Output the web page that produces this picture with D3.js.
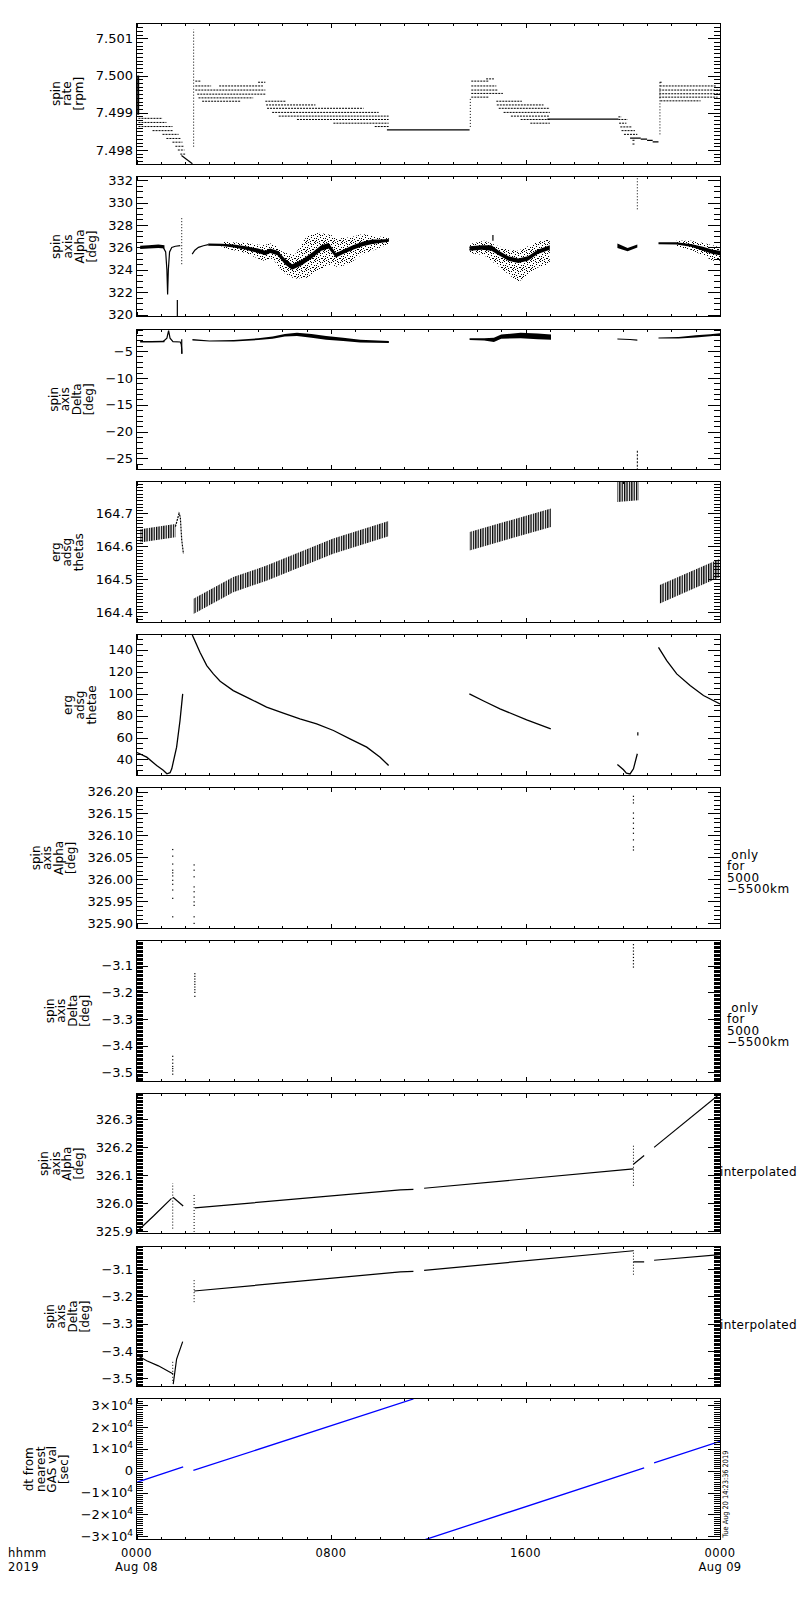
<!DOCTYPE html>
<html><head><meta charset="utf-8">
<script src="https://cdn.jsdelivr.net/npm/d3@7"></script>
<style>body{margin:0;background:#fff}svg text{font-family:"DejaVu Sans",sans-serif}</style>
</head><body><svg id="c" width="800" height="1600"></svg>
<script>
// ---------------- DATA (time in hours from 2019-08-08 00:00 UT) ----------------
const hourTicks = [0, 8, 16, 24];
const hourLabels = ["0000", "0800", "1600", "0000"];
const dateLabels = ["Aug 08", "", "", "Aug 09"];

// panel 1: spin rate [rpm]
const rateTicks = [7.498, 7.499, 7.500, 7.501];
const rateDotted = [ // [t0, t1, value]
  [0.08,1.07,7.49885],[0.08,1.23,7.49874],[0.08,1.48,7.49863],[0.66,1.52,7.49852],[1.07,1.73,7.49842],
  [1.23,1.81,7.49831],[1.48,1.89,7.49821],[1.6,1.93,7.49810],[1.7,1.97,7.49800],[1.8,2.0,7.49789],
  [2.42,2.63,7.49985],[2.42,3.07,7.49972],[3.4,5.2,7.49972],[2.42,5.3,7.49961],[2.5,5.3,7.49950],
  [2.55,4.8,7.49940],[2.7,4.27,7.49931],[5.0,5.3,7.49982],
  [5.3,6.16,7.49931],[5.33,7.36,7.49921],[5.37,9.34,7.49912],[5.58,9.96,7.49901],[5.85,10.37,7.49891],
  [6.6,10.37,7.49882],[8.1,10.37,7.49872],[9.8,10.37,7.49863],
  [13.77,14.47,7.49985],[14.38,14.7,7.49991],[13.77,14.8,7.49972],[13.77,14.87,7.49961],[13.77,15.07,7.49952],
  [13.77,14.47,7.49942],[14.8,15.85,7.49931],[14.82,16.74,7.49921],[14.9,17.0,7.49912],[15.1,17.0,7.49901],
  [15.4,17.0,7.49891],[15.8,17.0,7.49882],[16.2,17.0,7.49872],
  [19.82,19.95,7.49889],[19.82,20.2,7.49882],[19.85,20.15,7.49872],[19.9,20.37,7.49862],[19.95,20.5,7.49852],
  [20.05,20.6,7.49842],[20.4,20.5,7.49826],[20.4,20.5,7.49816],
  [21.52,21.6,7.49982],[21.52,23.86,7.49972],[21.5,24,7.49961],[21.5,24,7.49951],[21.5,23.9,7.49942],[21.55,23.2,7.49932]
];
const rateSolid = [
  [10.3,13.7,7.49854],[16.9,19.82,7.49883],[20.3,20.74,7.49832],[20.74,21.0,7.49829],[21.0,21.23,7.49826],[21.23,21.47,7.49822]
];
const rateLine = [[1.85,7.49785],[2.3,7.49763]];
const rateSpikes = [[2.35,7.49809,7.50124],[13.73,7.49862,7.49942],[21.53,7.49842,7.49985]]; // [t, v0, v1]
const rateBars = [[0.07,7.49895,7.50000]];

// panel 2: spin axis Alpha [deg]
const alphaTicks = [320, 322, 324, 326, 328, 330, 332];
const alphaCore = [ // runs of [t, lo, hi]
  [[0.15,325.85,326.15],[0.5,325.9,326.2],[0.9,325.95,326.25],[1.15,325.9,326.2]],
  [[2.95,326.15,326.35],[3.5,326.12,326.32],[4.0,326.0,326.25],[4.5,325.8,326.1],[5.0,325.5,325.9],[5.3,325.3,325.7],
   [5.5,325.5,325.9],[5.8,325.3,325.7],[6.1,324.5,325.0],[6.4,324.0,324.5],[6.8,324.4,324.9],[7.2,325.0,325.5],
   [7.6,325.7,326.2],[7.9,325.9,326.4],[8.2,325.1,325.5],[8.5,325.4,325.8],[8.9,325.8,326.2],[9.3,326.1,326.5],
   [9.7,326.3,326.7],[10.0,326.4,326.7],[10.38,326.5,326.75]],
  [[13.7,325.7,326.1],[14.2,325.8,326.2],[14.6,325.7,326.2],[14.9,325.3,325.7],[15.3,324.8,325.2],[15.7,324.6,325.0],
   [16.1,324.8,325.2],[16.5,325.4,325.8],[17.0,325.8,326.2]],
  [[19.78,325.95,326.35],[20.2,325.65,325.95],[20.6,326.0,326.25]],
  [[21.47,326.28,326.45],[22.2,326.25,326.45],[22.8,326.05,326.3],[23.3,325.7,326.05],[23.7,325.4,325.8],[24.0,325.3,325.7]]
];
const alphaScatter = [
  [[3.5,326.0,326.5],[4.5,325.5,326.4],[5.2,324.8,326.2],[5.6,325.0,326.4],[6.0,323.8,325.6],[6.5,323.2,325.3],
   [7.0,323.3,327.0],[7.5,324.0,327.3],[8.0,324.5,327.1],[8.3,324.2,326.8],[8.8,324.6,326.9],[9.3,325.4,327.2],
   [9.8,325.8,327.0],[10.38,326.3,326.9]],
  [[13.7,325.5,326.3],[14.3,325.3,326.6],[14.9,324.3,326.1],[15.3,323.6,325.8],[15.7,322.9,325.7],[16.1,323.5,326.1],
   [16.5,324.2,326.5],[17.0,324.5,326.7]],
  [[22.2,326.1,326.6],[22.8,325.8,326.6],[23.3,325.3,326.4],[23.7,324.8,326.2],[24.0,324.8,326.0]]
];
const alphaLines = [
  [[1.1,326.0],[1.2,325.6],[1.25,324.0],[1.28,321.8],[1.31,324.0],[1.36,325.6],[1.45,326.0],[1.6,326.1],[1.8,326.15]],
  [[2.29,325.4],[2.4,325.75],[2.55,326.0],[2.75,326.15],[2.95,326.25]]
];
const alphaSpikes = [[1.86,324.5,328.7],[20.6,329.4,332.3]];
const alphaBars = [[1.68,319.8,321.3],[14.66,326.6,327.1]];

// panel 3: spin axis Delta [deg]
const deltaTicks = [-25, -20, -15, -10, -5];
const deltaCore = [
  [[0.15,-3.4,-3.1],[0.6,-3.4,-3.1],[1.15,-3.35,-3.05]],
  [[2.3,-3.0,-2.75],[3.0,-3.2,-3.0],[4.0,-3.2,-2.95],[5.0,-2.95,-2.6],[5.6,-2.7,-2.3],[6.1,-2.3,-1.8],[6.6,-2.2,-1.6],
   [7.2,-2.5,-1.8],[7.8,-2.9,-2.2],[8.5,-3.1,-2.5],[9.2,-3.4,-2.9],[10.38,-3.5,-3.1]],
  [[13.7,-2.95,-2.6],[14.3,-3.0,-2.6],[14.7,-3.3,-2.5],[15.0,-2.7,-1.9],[15.8,-2.6,-1.6],[16.5,-2.8,-1.7],[17.05,-2.9,-1.9]],
  [[19.78,-2.85,-2.65],[20.3,-2.95,-2.75],[20.6,-3.05,-2.85]],
  [[21.47,-2.65,-2.45],[22.3,-2.65,-2.35],[23.0,-2.45,-2.05],[23.6,-2.25,-1.85],[24.0,-2.05,-1.65]]
];
const deltaLines = [
  [[1.1,-3.2],[1.25,-2.6],[1.32,-1.2],[1.38,-2.6],[1.5,-3.25],[1.8,-3.3],[1.84,-3.7],[1.86,-4.6],[1.87,-5.5]]
];
const deltaSpikes = [[20.6,-27.2,-23.4]];
const deltaBars = [[1.86,-5.5,-2.8]];

// panel 4: erg adsg thetas
const thetasTicks = [164.4, 164.5, 164.6, 164.7];
const thetasBands = [
  [[0.15,164.612,164.652],[1.6,164.628,164.668]],
  [[2.34,164.395,164.441],[3.98,164.461,164.507],[5.35,164.496,164.542],[6.72,164.537,164.583],[8.09,164.578,164.624],[10.37,164.631,164.677]],
  [[13.7,164.588,164.644],[17.05,164.659,164.715]],
  [[19.78,164.735,164.796],[20.65,164.74,164.796]],
  [[21.5,164.426,164.482],[24.0,164.507,164.563]]
];
const thetasLines = [[[1.6,164.66],[1.75,164.70],[1.8,164.69],[1.86,164.62],[1.93,164.578]]];

// panel 5: erg adsg thetae
const thetaeTicks = [40, 60, 80, 100, 120, 140];
const thetaeLines = [
  [[0,46.6],[0.42,42.1],[0.83,34.5],[1.1,30.2],[1.25,27],[1.38,28],[1.45,31.5],[1.65,51.2],[1.79,75.5],[1.9,99.7]],
  [[2.28,155],[2.31,152.7],[2.61,137.6],[2.89,125.5],[3.16,117.9],[3.44,111.2],[3.98,102.7],[4.67,95.2],[5.35,87.6],
   [6.04,82.1],[6.72,77],[7.41,72.4],[8.1,66.4],[8.78,58.8],[9.47,51.2],[10.02,42.1],[10.37,34.5]],
  [[13.69,99.7],[14.3,93],[14.95,86.1],[16.05,76.1],[17.04,67.9]],
  [[19.78,35.5],[20.03,30.6],[20.15,27.5],[20.3,26.8],[20.44,31.5],[20.6,45.2]],
  [[21.47,142.1],[21.81,130],[22.22,117.9],[22.77,107.3],[23.32,98.2],[24,90.6]]
];
const thetaeBars = [[20.62,61.8,64.8]];

// panel 6: spin axis Alpha, only for 5000-5500 km
const onlyAlphaTicks = [325.90, 325.95, 326.00, 326.05, 326.10, 326.15, 326.20];
const onlyAlphaDots = [
  [1.49,[326.068,326.053,326.035,326.021,326.015,326.008,325.998,325.989,325.976,325.957,325.915]],
  [2.37,[326.033,326.021,326.006,325.983,325.972,325.960,325.949,325.941,325.915,325.900]],
  [20.44,[326.189,326.181,326.174,326.151,326.139,326.128,326.116,326.105,326.090,326.074,326.067]]
];

// panel 7: spin axis Delta, only for 5000-5500 km
const onlyDeltaTicks = [-3.5, -3.4, -3.3, -3.2, -3.1];
const onlyDeltaDots = [
  [1.49,[-3.440,-3.453,-3.466,-3.478,-3.486,-3.495,-3.507]],
  [2.40,[-3.130,-3.140,-3.150,-3.160,-3.170,-3.180,-3.190,-3.200,-3.215]],
  [20.44,[-3.021,-3.033,-3.045,-3.057,-3.069,-3.081,-3.093,-3.105]]
];

// panel 8: spin axis Alpha, interpolated
const interpAlphaTicks = [325.9, 326.0, 326.1, 326.2, 326.3];
const interpAlphaLines = [
  [[0,325.898],[0.7,325.955],[1.44,326.018]],
  [[1.5,326.022],[1.92,325.991]],
  [[2.4,325.984],[10.85,326.048],[11.39,326.050]],
  [[11.83,326.054],[20.44,326.123]],
  [[20.44,326.140],[20.88,326.171]],
  [[21.29,326.200],[24,326.391]]
];
const interpAlphaSpikes = [[1.49,325.91,326.072],[2.37,325.898,326.036],[20.44,326.063,326.209]];

// panel 9: spin axis Delta, interpolated
const interpDeltaTicks = [-3.5, -3.4, -3.3, -3.2, -3.1];
const interpDeltaLines = [
  [[0,-3.415],[0.42,-3.436],[0.9,-3.455],[1.51,-3.485]],
  [[1.51,-3.522],[1.65,-3.43],[1.9,-3.366]],
  [[2.37,-3.180],[10.85,-3.110],[11.39,-3.108]],
  [[11.83,-3.104],[20.44,-3.032]],
  [[20.44,-3.073],[20.88,-3.073]],
  [[21.29,-3.067],[24,-3.046]]
];
const interpDeltaSpikes = [[1.49,-3.51,-3.44],[2.37,-3.221,-3.134],[20.44,-3.12,-3.03]];

// panel 10: dt from nearest GAS val [sec]
const dtTicks = [-30000, -20000, -10000, 0, 10000, 20000, 30000];
const dtLines = [
  [[0,-5340],[1.92,1690]],
  [[2.34,100],[11.39,32740]],
  [[11.87,-31500],[20.88,1300]],
  [[21.29,3520],[24,13380]]
];
const stampText = "Tue Aug 20 14:23:36 2019";

// ---------------- LAYOUT ----------------
const X0 = 136.5, X1 = 720;
const TOP0 = 23.3, PITCH = 152.85, PH = 140.7;
const x = d3.scaleLinear().domain([0, 24]).range([X0, X1]);
const svg = d3.select("#c");
const defs = svg.append("defs");

const hatch = defs.append("pattern").attr("id","hatch").attr("width",2.4).attr("height",5).attr("patternUnits","userSpaceOnUse");
hatch.append("rect").attr("width",1.3).attr("height",5).attr("fill","#000");
const scat = defs.append("pattern").attr("id","scat").attr("width",9).attr("height",9).attr("patternUnits","userSpaceOnUse");
[[0,0],[4,0],[7,1],[2,2],[5,3],[8,4],[1,4],[3,5],[6,6],[0,7],[4,7],[8,8],[2,8],[7,6],[5,1],[1,6]].forEach(p =>
  scat.append("rect").attr("x",p[0]).attr("y",p[1]).attr("width",1).attr("height",1).attr("fill","#000"));

function minorVals(dom, step) {
  const lo = Math.min(dom[0], dom[1]), hi = Math.max(dom[0], dom[1]);
  const k0 = Math.ceil(lo/step - 1e-9), k1 = Math.floor(hi/step + 1e-9);
  return d3.range(k0, k1 + 1).map(k => +(k*step).toFixed(8));
}

function helpers(p, y) {
  return {
    band(runs, fill) {
      const a = d3.area().x(d => x(d[0])).y0(d => y(d[1])).y1(d => y(d[2]));
      p.selectAll(null).data(runs).join("path").attr("d", a).attr("fill", fill).attr("stroke", "none");
    },
    lines(runs, stroke, w, dash) {
      const l = d3.line().x(d => x(d[0])).y(d => y(d[1]));
      p.selectAll(null).data(runs).join("path").attr("d", l).attr("fill","none")
        .attr("stroke", stroke).attr("stroke-width", w).attr("stroke-dasharray", dash || null);
    },
    hseg(segs, w, dash) {
      p.selectAll(null).data(segs).join("line")
        .attr("x1", d => x(d[0])).attr("x2", d => x(d[1])).attr("y1", d => y(d[2])).attr("y2", d => y(d[2]))
        .attr("stroke","#000").attr("stroke-width", w).attr("stroke-dasharray", dash || null);
    },
    vseg(segs, w, dash) {
      p.selectAll(null).data(segs).join("line")
        .attr("x1", d => x(d[0])).attr("x2", d => x(d[0])).attr("y1", d => y(d[1])).attr("y2", d => y(d[2]))
        .attr("stroke","#000").attr("stroke-width", w).attr("stroke-dasharray", dash || null);
    },
    dots(groups) {
      const flat = groups.flatMap(g => g[1].map(v => [g[0], v]));
      p.selectAll(null).data(flat).join("rect")
        .attr("x", d => x(d[0]) - 0.6).attr("y", d => y(d[1]) - 0.6).attr("width", 1.2).attr("height", 1.2).attr("fill","#000");
    }
  };
}

const supFmt = function(d) {
  const t = d3.select(this); t.text(null);
  if (d === 0) { t.text("0"); return; }
  t.append("tspan").text((d < 0 ? "\u2212" : "") + Math.abs(d/1e4) + "\u00d710");
  t.append("tspan").attr("dy", -5).attr("font-size", 9).text("4");
};

const panels = [
  {title:["spin","rate","[rpm]"], domain:[7.497624,7.501403], major:rateTicks, minor:0.0001, fmt:d3.format(".3f"),
   draw:h => { h.hseg(rateDotted, 1, "2,1"); h.hseg(rateSolid, 1.2); h.lines([rateLine], "#000", 1.2);
               h.vseg(rateSpikes, 1, "1,2"); h.vseg(rateBars, 2); }},
  {title:["spin","axis","Alpha","[deg]"], domain:[319.8,332.36], major:alphaTicks, minor:0.5, fmt:d3.format("d"),
   draw:h => { h.band(alphaScatter, "url(#scat)"); h.band(alphaCore, "#000"); h.lines(alphaLines, "#000", 1.2);
               h.vseg(alphaSpikes, 1, "1,2"); h.vseg(alphaBars, 1.2); }},
  {title:["spin","axis","Delta","[deg]"], domain:[-27.1,-0.88], major:deltaTicks, minor:1, fmt:d3.format("d"),
   draw:h => { h.band(deltaCore, "#000"); h.lines(deltaLines, "#000", 1.2); h.vseg(deltaSpikes, 1, "2,1.5"); h.vseg(deltaBars, 1.2); }},
  {title:["erg","adsg","thetas"], domain:[164.369,164.796], major:thetasTicks, minor:0.01, fmt:d3.format(".1f"),
   draw:h => { h.band(thetasBands, "url(#hatch)"); h.lines(thetasLines, "#000", 1.2, "2,1"); }},
  {title:["erg","adsg","thetae"], domain:[25.5,153.6], major:thetaeTicks, minor:5, fmt:d3.format("d"),
   draw:h => { h.lines(thetaeLines, "#000", 1.3); h.vseg(thetaeBars, 1.2); }},
  {title:["spin","axis","Alpha","[deg]"], domain:[325.889,326.209], major:onlyAlphaTicks, minor:0.01, fmt:d3.format(".2f"),
   right:[" only","for","5000","\u22125500km"], draw:h => { h.dots(onlyAlphaDots); }},
  {title:["spin","axis","Delta","[deg]"], domain:[-3.533,-3.005], major:onlyDeltaTicks, minor:0.005, fmt:d3.format(".1f"),
   right:[" only","for","5000","\u22125500km"], draw:h => { h.dots(onlyDeltaDots); }},
  {title:["spin","axis","Alpha","[deg]"], domain:[325.891,326.393], major:interpAlphaTicks, minor:0.005, fmt:d3.format(".1f"),
   interp:true, draw:h => { h.lines(interpAlphaLines, "#000", 1.2); h.vseg(interpAlphaSpikes, 1, "1,2"); }},
  {title:["spin","axis","Delta","[deg]"], domain:[-3.532,-3.015], major:interpDeltaTicks, minor:0.005, fmt:d3.format(".1f"),
   interp:true, draw:h => { h.lines(interpDeltaLines, "#000", 1.2); h.vseg(interpDeltaSpikes, 1, "1,2"); }},
  {title:["dt from","nearest","GAS val","[sec]"], domain:[-31507,32740], major:dtTicks, minor:1000, sup:true,
   draw:h => { h.lines(dtLines, "#0000ff", 1.3); }}
];

panels.forEach((cfg, i) => {
  const top = TOP0 + i*PITCH, bot = top + PH;
  const y = d3.scaleLinear().domain(cfg.domain).range([bot, top]);
  defs.append("clipPath").attr("id", "cl" + i).append("rect")
    .attr("x", X0).attr("y", top).attr("width", X1 - X0).attr("height", PH);
  const plot = svg.append("g").attr("clip-path", `url(#cl${i})`);
  cfg.draw(helpers(plot, y));

  const ax = svg.append("g").attr("shape-rendering","crispEdges");
  const mins = minorVals(cfg.domain, cfg.minor);
  const la = ax.append("g").attr("transform", `translate(${X0},0)`)
    .call(d3.axisLeft(y).tickValues(cfg.major).tickSize(-11.7).tickPadding(3.5).tickFormat(cfg.fmt || null));
  ax.append("g").attr("transform", `translate(${X0},0)`).call(d3.axisLeft(y).tickValues(mins).tickSize(-6).tickFormat(""));
  ax.append("g").attr("transform", `translate(${X1},0)`).call(d3.axisRight(y).tickValues(cfg.major).tickSize(-11.7).tickFormat(""));
  ax.append("g").attr("transform", `translate(${X1},0)`).call(d3.axisRight(y).tickValues(mins).tickSize(-6).tickFormat(""));
  const hrs = d3.range(0, 25);
  ax.append("g").attr("transform", `translate(0,${bot})`).call(d3.axisBottom(x).tickValues(hourTicks).tickSize(-4.5).tickFormat(""));
  ax.append("g").attr("transform", `translate(0,${bot})`).call(d3.axisBottom(x).tickValues(hrs).tickSize(-2.5).tickFormat(""));
  ax.append("g").attr("transform", `translate(0,${top})`).call(d3.axisTop(x).tickValues(hourTicks).tickSize(-4.5).tickFormat(""));
  ax.append("g").attr("transform", `translate(0,${top})`).call(d3.axisTop(x).tickValues(hrs).tickSize(-2.5).tickFormat(""));
  ax.selectAll(".domain").remove();
  ax.selectAll("line").attr("stroke", "#000");
  la.attr("font-family", "DejaVu Sans").attr("font-size", 13);
  la.selectAll("text").attr("fill", "#000");
  if (cfg.sup) la.selectAll("text").each(supFmt);
  ax.append("rect").attr("x", X0).attr("y", top).attr("width", X1 - X0).attr("height", PH)
    .attr("fill", "none").attr("stroke", "#000").attr("stroke-width", 1);

  // title
  const bb = la.node().getBBox();
  const lastBase = X0 + bb.x - 12.5;
  const cy = (top + bot) / 2;
  const n = cfg.title.length;
  cfg.title.forEach((s, k) => {
    const bx = lastBase - (n - 1 - k) * 11.8;
    svg.append("text").attr("transform", `translate(${bx},${cy}) rotate(-90)`)
      .attr("text-anchor", "middle").attr("font-size", 12).attr("fill", "#000").text(s);
  });
  if (cfg.right) {
    const offs = [71.5, 82.5, 94.2, 105.8];
    cfg.right.forEach((s, k) => svg.append("text").attr("x", 727).attr("y", top + offs[k])
      .attr("font-size", 12).attr("letter-spacing", 0.5).attr("xml:space","preserve").style("white-space","pre").text(s));
  }
  if (cfg.interp) {
    svg.append("text").attr("x", 720).attr("y", top + 82.5).attr("font-size", 12).attr("letter-spacing", 0.3).text("interpolated");
  }
  if (i === panels.length - 1) {
    svg.append("text").attr("transform", `translate(728,${bot - 2}) rotate(-90)`).attr("font-size", 7.5)
      .attr("textLength", 87).attr("lengthAdjust", "spacingAndGlyphs").text(stampText);
    const tl = svg.append("g").attr("font-size", 11.5).attr("fill", "#000").attr("letter-spacing", 0.4);
    hourTicks.forEach((h, k) => {
      tl.append("text").attr("x", x(h)).attr("y", 1557).attr("text-anchor", "middle").text(hourLabels[k]);
      if (dateLabels[k]) tl.append("text").attr("x", x(h)).attr("y", 1570.6).attr("text-anchor", "middle").text(dateLabels[k]);
    });
    tl.append("text").attr("x", 8).attr("y", 1557).text("hhmm");
    tl.append("text").attr("x", 8).attr("y", 1570.6).text("2019");
  }
});
</script></body></html>
